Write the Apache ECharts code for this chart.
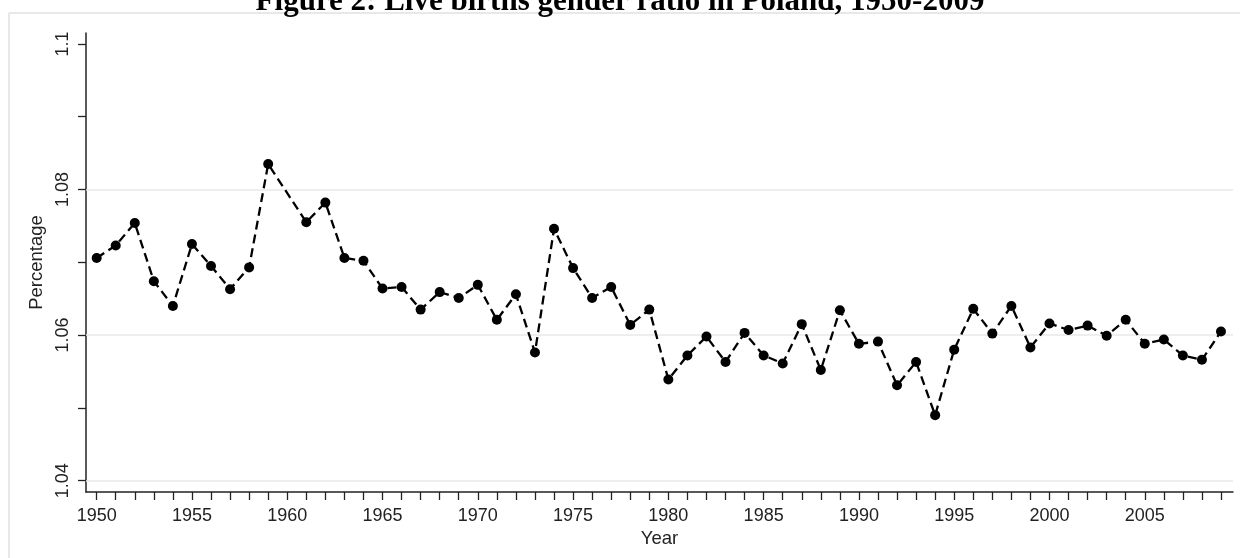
<!DOCTYPE html>
<html>
<head>
<meta charset="utf-8">
<title>Live births gender ratio in Poland</title>
<script src="https://cdn.jsdelivr.net/npm/echarts@6/dist/echarts.min.js"></script>
<style>
  html, body { margin: 0; padding: 0; background: #fff; }
  #main { width: 1240px; height: 558px; }
</style>
</head>
<body>
<div id="main"></div>
<script>
// years 1950-2009, no value shown for 1960
var years = [];
for (var y = 1950; y <= 2009; y++) years.push(y);

var ratio = [
    1.0706, 1.0723, 1.0754, 1.0674, 1.0640, 1.0725, 1.0695, 1.0663, 1.0693, 1.0835,
    null,   1.0755, 1.0782, 1.0706, 1.0702, 1.0664, 1.0666, 1.0635, 1.0659, 1.0651,
    1.0669, 1.0621, 1.0656, 1.0576, 1.0746, 1.0692, 1.0651, 1.0666, 1.0614, 1.0635,
    1.0539, 1.0572, 1.0598, 1.0563, 1.0603, 1.0572, 1.0561, 1.0615, 1.0552, 1.0634,
    1.0588, 1.0591, 1.0531, 1.0563, 1.0490, 1.0580, 1.0636, 1.0602, 1.0640, 1.0583,
    1.0616, 1.0607, 1.0613, 1.0599, 1.0621, 1.0588, 1.0594, 1.0572, 1.0566, 1.0605
];

var xLabels = [1950, 1955, 1960, 1965, 1970, 1975, 1980, 1985, 1990, 1995, 2000, 2005];
var yLabels = [1.04, 1.06, 1.08, 1.1];
var yTicks = [1.04, 1.05, 1.06, 1.07, 1.08, 1.09, 1.1];
var yGrid = [1.04, 1.06, 1.08];

var points = [];
for (var i = 0; i < years.length; i++) {
    if (ratio[i] !== null) points.push([years[i], ratio[i]]);
}

var chart = echarts.init(document.getElementById('main'));

option = {
    animation: false,
    backgroundColor: '#fff',
    title: {
        text: 'Figure 2: Live births gender ratio in Poland, 1950-2009',
        left: 'center',
        top: -19,
        textStyle: {
            fontFamily: 'Liberation Serif',
            fontWeight: 'bold',
            fontSize: 31,
            color: '#000'
        }
    },
    // light frame round the figure
    graphic: [
        { type: 'line', shape: { x1: 9, y1: 13, x2: 1240, y2: 13 }, style: { stroke: '#e8e8e8', lineWidth: 2 }, z: -1 },
        { type: 'line', shape: { x1: 9, y1: 13, x2: 9, y2: 558 }, style: { stroke: '#e8e8e8', lineWidth: 2 }, z: -1 }
    ],
    grid: { left: 86, right: 7, top: 33, bottom: 66 },
    xAxis: {
        type: 'value',
        min: 1949.44,
        max: 2009.63,
        name: 'Year',
        nameLocation: 'middle',
        nameGap: 35,
        nameTextStyle: { fontFamily: 'Liberation Sans', fontSize: 18.5, color: '#222' },
        axisLine: { show: true, onZero: false, lineStyle: { color: '#222', width: 1.5 } },
        axisTick: { show: true, customValues: years, length: 8, lineStyle: { color: '#222', width: 1.3 } },
        axisLabel: {
            customValues: xLabels,
            margin: 15,
            fontFamily: 'Liberation Sans',
            fontSize: 18,
            color: '#222',
            formatter: function (v) { return String(v); }
        },
        splitLine: { show: false }
    },
    yAxis: {
        type: 'value',
        min: 1.03844,
        max: 1.1015,
        name: 'Percentage',
        nameLocation: 'middle',
        nameGap: 38,
        nameTextStyle: { fontFamily: 'Liberation Sans', fontSize: 18.5, color: '#222' },
        axisLine: { show: true, onZero: false, lineStyle: { color: '#222', width: 1.5 } },
        axisTick: { show: true, customValues: yTicks, length: 8, lineStyle: { color: '#222', width: 1.3 } },
        axisLabel: {
            customValues: yLabels,
            rotate: 90,
            margin: 14,
            fontFamily: 'Liberation Sans',
            fontSize: 18,
            color: '#222',
            formatter: function (v) { return String(+v.toFixed(2)); }
        },
        splitLine: { show: false }
    },
    series: [
        {
            type: 'line',
            data: points,
            symbol: 'circle',
            symbolSize: 10,
            itemStyle: { color: '#000' },
            lineStyle: { color: '#000', width: 2.3, type: [9, 5] },
            markLine: {
                silent: true,
                symbol: ['none', 'none'],
                label: { show: false },
                lineStyle: { color: '#e8e8e8', width: 1.5, type: 'solid' },
                data: yGrid.map(function (v) { return { yAxis: v }; }),
                z: 1
            },
            z: 3
        }
    ]
};

chart.setOption(option);
</script>
</body>
</html>
